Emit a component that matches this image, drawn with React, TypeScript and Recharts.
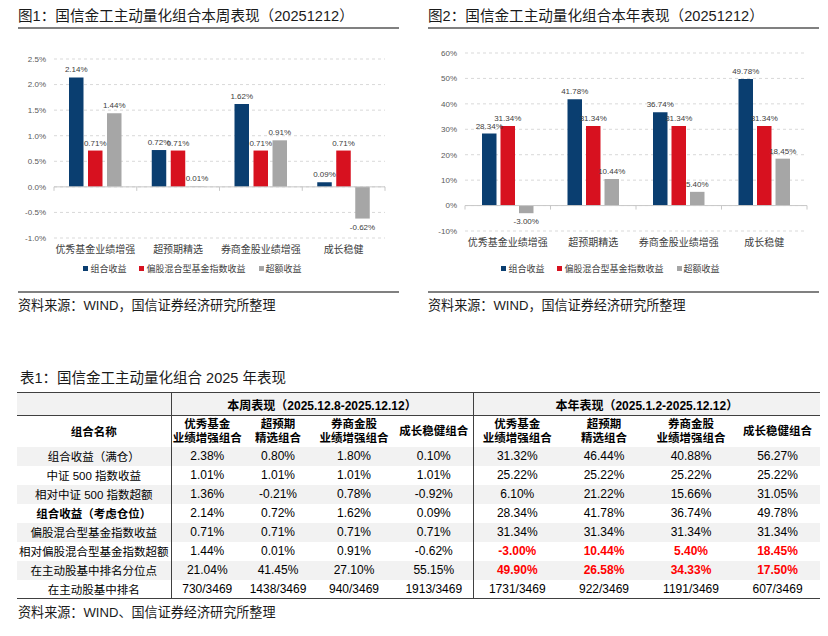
import React from 'react';
import { BarChart, Bar, XAxis, YAxis, CartesianGrid, Legend, LabelList, ReferenceLine } from 'recharts';

// ---------- data ----------
const categories = ['优秀基金业绩增强', '超预期精选', '券商金股业绩增强', '成长稳健'];
const seriesNames = ['组合收益', '偏股混合型基金指数收益', '超额收益'];
const weekPortfolio = [2.14, 0.72, 1.62, 0.09];
const weekIndex = [0.71, 0.71, 0.71, 0.71];
const weekExcess = [1.44, 0.01, 0.91, -0.62];
const yearPortfolio = [28.34, 41.78, 36.74, 49.78];
const yearIndex = [31.34, 31.34, 31.34, 31.34];
const yearExcess = [-3.0, 10.44, 5.4, 18.45];
const weekTicks = [-1.0, -0.5, 0.0, 0.5, 1.0, 1.5, 2.0, 2.5];
const yearTicks = [-10, 0, 10, 20, 30, 40, 50, 60];

const tableRowNames = [
  '组合收益（满仓）',
  '中证 500 指数收益',
  '相对中证 500 指数超额',
  '组合收益（考虑仓位）',
  '偏股混合型基金指数收益',
  '相对偏股混合型基金指数超额',
  '在主动股基中排名分位点',
  '在主动股基中排名',
];
const tableColHeaders = [
  ['优秀基金', '业绩增强组合'],
  ['超预期', '精选组合'],
  ['券商金股', '业绩增强组合'],
  ['成长稳健组合'],
];
const weekTable = [
  ['2.38%', '0.80%', '1.80%', '0.10%'],
  ['1.01%', '1.01%', '1.01%', '1.01%'],
  ['1.36%', '-0.21%', '0.78%', '-0.92%'],
  ['2.14%', '0.72%', '1.62%', '0.09%'],
  ['0.71%', '0.71%', '0.71%', '0.71%'],
  ['1.44%', '0.01%', '0.91%', '-0.62%'],
  ['21.04%', '41.45%', '27.10%', '55.15%'],
  ['730/3469', '1438/3469', '940/3469', '1913/3469'],
];
const yearTable = [
  ['31.32%', '46.44%', '40.88%', '56.27%'],
  ['25.22%', '25.22%', '25.22%', '25.22%'],
  ['6.10%', '21.22%', '15.66%', '31.05%'],
  ['28.34%', '41.78%', '36.74%', '49.78%'],
  ['31.34%', '31.34%', '31.34%', '31.34%'],
  ['-3.00%', '10.44%', '5.40%', '18.45%'],
  ['49.90%', '26.58%', '34.33%', '17.50%'],
  ['1731/3469', '922/3469', '1191/3469', '607/3469'],
];
const boldRowNames = [3];
const redYearRows = [5, 6];

const weekData = categories.map((c, i) => ({ name: c, a: weekPortfolio[i], b: weekIndex[i], c: weekExcess[i] }));
const yearData = categories.map((c, i) => ({ name: c, a: yearPortfolio[i], b: yearIndex[i], c: yearExcess[i] }));

// ---------- style ----------
const FONT = '"Liberation Sans", Arial, "Noto Sans CJK SC", sans-serif';
const BLUE = '#0A3E70';
const RED = '#D7111F';
const GRAY = '#A6A6A6';
const TEXT = '#1a1a1a';

const ValueLabel = (props: any) => {
  const vb = props.viewBox || props;
  const x = Number(vb.x), y = Number(vb.y), w = Number(vb.width), h = Number(vb.height);
  const v = Number(props.value);
  const top = Math.min(y, y + h);
  const bottom = Math.max(y, y + h);
  const ty = v >= 0 ? top - 5 : bottom + 11;
  return (
    <text x={x + w / 2} y={ty} textAnchor="middle" fontSize={8} fill="#404040" fontFamily={FONT}>
      {v.toFixed(2) + '%'}
    </text>
  );
};

const zeroLineShape = (n: number) => (p: any) => {
  const x1 = Number(p.x1), x2 = Number(p.x2), y1 = Number(p.y1);
  const marks = [];
  for (let i = 0; i <= n; i++) marks.push(x1 + (i * (x2 - x1)) / n);
  return (
    <g>
      <line x1={x1} y1={y1} x2={x2} y2={y1} stroke="#c8c8c8" strokeWidth={1} />
      {marks.map((mx, i) => (
        <line key={i} x1={mx} x2={mx} y1={y1} y2={y1 + 4} stroke="#c8c8c8" strokeWidth={1} />
      ))}
    </g>
  );
};

const LegendContent = (props: any) => {
  const raw = props.payload || [];
  const payload = seriesNames.map((n) => raw.find((p: any) => p.value === n)).filter(Boolean);
  return (
    <div style={{ display: 'flex', justifyContent: 'center', alignItems: 'center', height: 14, fontFamily: FONT, fontSize: 9, color: '#404040' }}>
      {payload.map((p: any, i: number) => (
        <div key={i} style={{ display: 'flex', alignItems: 'center', marginRight: i < payload.length - 1 ? 13 : 0 }}>
          <span style={{ display: 'inline-block', width: 5, height: 5, background: p.color, marginRight: 2 }} />
          <span>{p.value}</span>
        </div>
      ))}
    </div>
  );
};

const Title = ({ left, top, width, text }: any) => (
  <>
    <div style={{ position: 'absolute', left, top, fontFamily: FONT, fontSize: 14.6, lineHeight: '15px', color: TEXT, whiteSpace: 'nowrap' }}>{text}</div>
    <div style={{ position: 'absolute', left, top: top + 18, width, height: 2, background: '#808080' }} />
  </>
);

const Source = ({ left, top, width, text }: any) => (
  <>
    {width ? <div style={{ position: 'absolute', left, top, width, height: 2, background: '#808080' }} /> : null}
    <div style={{ position: 'absolute', left, top: top + 8, fontFamily: FONT, fontSize: 13.1, lineHeight: '13px', color: TEXT, whiteSpace: 'nowrap' }}>{text}</div>
  </>
);

const ChartBlock = ({ data, ticks, domain, fmt, width, margin, yWidth, xHeight, barSize, barGap }: any) => (
  <BarChart width={width} height={250} data={data} margin={margin} barSize={barSize} barGap={barGap}>
    <CartesianGrid vertical={false} stroke="#d9d9d9" strokeDasharray="3 3" />
    <XAxis dataKey="name" axisLine={false} tickLine={false} interval={0} height={xHeight}
      tick={{ fontSize: 10, fill: '#404040', fontFamily: FONT }} />
    <YAxis domain={domain} ticks={ticks} width={yWidth} axisLine={false} tickLine={false} tickFormatter={fmt}
      tick={{ fontSize: 8, fill: '#595959', fontFamily: FONT }} />
    <ReferenceLine y={0} shape={zeroLineShape(data.length)} />
    <Legend verticalAlign="bottom" itemSorter="dataKey" content={<LegendContent />} />
    <Bar dataKey="a" name={seriesNames[0]} fill={BLUE} isAnimationActive={false}>
      <LabelList dataKey="a" content={<ValueLabel />} />
    </Bar>
    <Bar dataKey="b" name={seriesNames[1]} fill={RED} isAnimationActive={false}>
      <LabelList dataKey="b" content={<ValueLabel />} />
    </Bar>
    <Bar dataKey="c" name={seriesNames[2]} fill={GRAY} isAnimationActive={false}>
      <LabelList dataKey="c" content={<ValueLabel />} />
    </Bar>
  </BarChart>
);

const colWidths = [154, 72, 70, 82, 78, 88, 86, 88, 85];
const DARK = '#404040';

const PerfTable = () => {
  const cellBase: React.CSSProperties = { padding: 0, textAlign: 'center', whiteSpace: 'nowrap', overflow: 'visible' };
  return (
    <table style={{ position: 'absolute', left: 17, top: 392, width: 803, borderCollapse: 'collapse', tableLayout: 'fixed', fontFamily: FONT, fontSize: 12, color: '#000' }}>
      <colgroup>
        {colWidths.map((w, i) => <col key={i} style={{ width: w }} />)}
      </colgroup>
      <tbody>
        <tr style={{ height: 23, background: '#f2f2f2', borderTop: `1.5px solid ${DARK}`, borderBottom: `1px solid ${DARK}` }}>
          <td style={{ ...cellBase, borderRight: `1px solid ${DARK}` }}></td>
          <td colSpan={4} style={{ ...cellBase, fontWeight: 'bold', borderRight: `1px solid ${DARK}` }}>本周表现（2025.12.8-2025.12.12）</td>
          <td colSpan={4} style={{ ...cellBase, fontWeight: 'bold' }}>本年表现（2025.1.2-2025.12.12）</td>
        </tr>
        <tr style={{ height: 31 }}>
          <td style={{ ...cellBase, fontWeight: 'bold', borderRight: `1px solid ${DARK}`, fontSize: 11.5 }}>组合名称</td>
          {[0, 1].map((blk) =>
            tableColHeaders.map((h, j) => (
              <td key={blk + '-' + j} style={{ ...cellBase, fontWeight: 'bold', fontSize: 11.5, lineHeight: '14px', borderRight: blk === 0 && j === 3 ? `1px solid ${DARK}` : undefined }}>
                {h.map((s, k) => <div key={k}>{s}</div>)}
              </td>
            ))
          )}
        </tr>
        {tableRowNames.map((rn, r) => (
          <tr key={r} style={{ height: 19, background: r % 2 === 0 ? '#f2f2f2' : '#fff', borderBottom: r === tableRowNames.length - 1 ? `1.5px solid ${DARK}` : undefined }}>
            <td style={{ ...cellBase, fontSize: 11.5, fontWeight: boldRowNames.includes(r) ? 'bold' : 'normal', borderRight: `1px solid ${DARK}` }}>{rn}</td>
            {weekTable[r].map((v, j) => (
              <td key={'w' + j} style={{ ...cellBase, borderRight: j === 3 ? `1px solid ${DARK}` : undefined }}>{v}</td>
            ))}
            {yearTable[r].map((v, j) => (
              <td key={'y' + j} style={{ ...cellBase, color: redYearRows.includes(r) ? '#FF0000' : '#000', fontWeight: redYearRows.includes(r) ? 'bold' : 'normal' }}>{v}</td>
            ))}
          </tr>
        ))}
      </tbody>
    </table>
  );
};

export default function App() {
  return (
    <div style={{ position: 'absolute', left: 0, top: 0, width: 828, height: 636, background: '#fff', overflow: 'hidden' }}>
      <Title left={18} top={9} width={381} text="图1：国信金工主动量化组合本周表现（20251212）" />
      <Title left={428} top={9} width={391} text="图2：国信金工主动量化组合本年表现（20251212）" />

      <div style={{ position: 'absolute', left: 0, top: 40 }}>
        <ChartBlock data={weekData} ticks={weekTicks} domain={[-1, 2.5]} fmt={(v: number) => v.toFixed(1) + '%'}
          width={400} margin={{ top: 19, right: 15, left: 0, bottom: 15 }} yWidth={54} xHeight={23} barSize={14.5} barGap={4.5} />
      </div>
      <div style={{ position: 'absolute', left: 414, top: 40 }}>
        <ChartBlock data={yearData} ticks={yearTicks} domain={[-10, 60]} fmt={(v: number) => v + '%'}
          width={410} margin={{ top: 13, right: 17, left: 0, bottom: 15 }} yWidth={51} xHeight={30} barSize={14.5} barGap={4} />
      </div>

      <Source left={18} top={291} width={381} text="资料来源：WIND，国信证券经济研究所整理" />
      <Source left={428} top={291} width={391} text="资料来源：WIND，国信证券经济研究所整理" />

      <div style={{ position: 'absolute', left: 20, top: 371, fontFamily: FONT, fontSize: 14.5, lineHeight: '15px', color: TEXT, whiteSpace: 'nowrap' }}>
        表1：国信金工主动量化组合 2025 年表现
      </div>
      <PerfTable />
      <Source left={18} top={598} width={0} text="资料来源：WIND、国信证券经济研究所整理" />
    </div>
  );
}
